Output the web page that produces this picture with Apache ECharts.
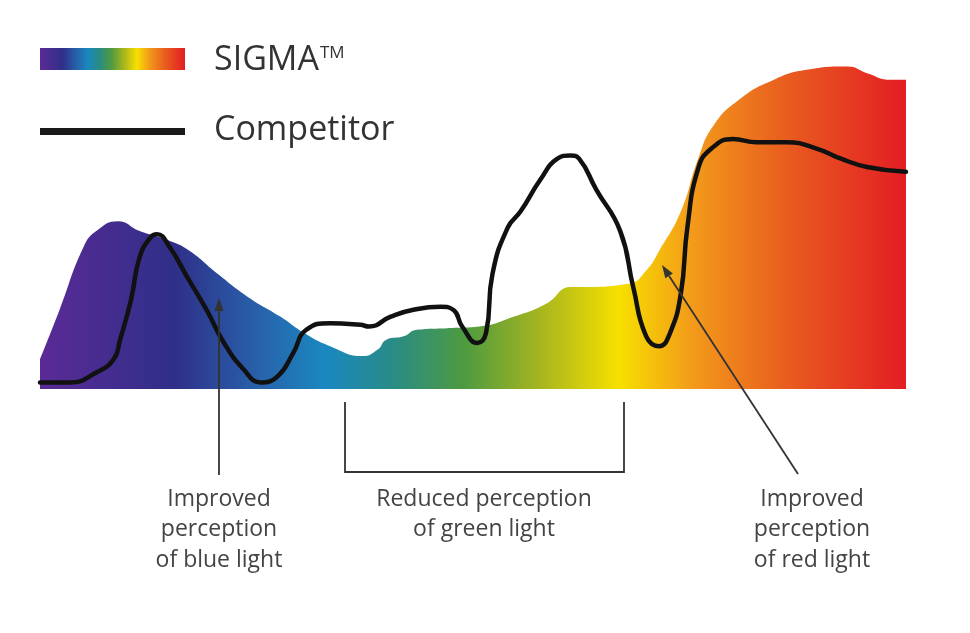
<!DOCTYPE html>
<html>
<head>
<meta charset="utf-8" />
<script src="https://cdn.jsdelivr.net/npm/echarts@6/dist/echarts.min.js"></script>
<style>
  html, body { margin: 0; padding: 0; background: #fff; }
  #chart { width: 970px; height: 633px; }
</style>
</head>
<body>
<div id="chart"></div>
<script>
// wavelength (nm) and relative response
var sigmaNm = [380, 389, 400, 406, 416, 426, 440, 449, 462, 476, 491, 502, 514, 529, 536, 540, 548, 554, 568, 583, 599, 614, 625, 629, 652, 660, 666, 676, 684, 691, 703, 719, 734, 753, 762, 773, 780];
var sigmaVal = [9, 24, 43, 48, 51, 48, 45, 42, 35, 28, 22, 17, 13, 10, 12, 15, 16, 18, 18.5, 19, 22, 26, 31, 31, 32, 36, 42, 54, 70, 80, 88, 94, 97, 98, 96, 94, 94];

var compNm = [380, 394, 406, 414, 417, 422, 426, 431, 434, 440, 448, 457, 465, 474, 482, 490, 497, 503, 514, 528, 532, 542, 552, 565, 571, 575, 582, 586, 589, 596, 602, 611, 619, 625, 629, 637, 648, 654, 660, 666, 671, 676, 679, 684, 690, 700, 711, 725, 739, 750, 762, 780];
var compVal = [2, 2, 5, 9, 15, 27, 40, 46, 47, 43, 34, 24, 14, 6, 2, 4, 11, 18, 20, 19.5, 19, 22, 24, 25, 24, 19, 14, 17, 35, 49, 54, 63.5, 70, 71, 70, 60.5, 48, 31, 16, 13, 17, 29, 49, 67, 73, 76, 75, 75, 73, 70, 67.5, 66];

var legendNames = ['SIGMA', 'Competitor'];
var notes = [
  'Improved\nperception\nof blue light',
  'Reduced perception\nof green light',
  'Improved\nperception\nof red light'
];

var spectrumStops = [
  [0, '#5b2a96'], [0.155, '#2f2f88'], [0.25, '#2860aa'], [0.33, '#1a88c0'],
  [0.41, '#2a8c84'], [0.49, '#4e9a40'], [0.575, '#a4b420'], [0.668, '#f7e000'],
  [0.754, '#f39a1a'], [0.855, '#e9601f'], [1, '#e31d24']
];

function spectrum() {
  var stops = [];
  for (var i = 0; i < spectrumStops.length; i++) {
    stops.push({ offset: spectrumStops[i][0], color: spectrumStops[i][1] });
  }
  return new echarts.graphic.LinearGradient(0, 0, 1, 0, stops);
}

function pairs(xs, ys) {
  var out = [];
  for (var i = 0; i < xs.length; i++) out.push([xs[i], ys[i]]);
  return out;
}

// thin annotation arrow, head at (x2, y2)
function arrow(x1, y1, x2, y2) {
  var dx = x2 - x1, dy = y2 - y1;
  var len = Math.sqrt(dx * dx + dy * dy);
  var ux = dx / len, uy = dy / len;
  var bx = x2 - ux * 13, by = y2 - uy * 13;
  return [{
    type: 'line', z: 10,
    shape: { x1: x1, y1: y1, x2: bx, y2: by },
    style: { stroke: '#333', lineWidth: 1.8 }
  }, {
    type: 'polygon', z: 10,
    shape: { points: [[x2, y2], [bx - uy * 4.5, by + ux * 4.5], [bx + uy * 4.5, by - ux * 4.5]] },
    style: { fill: '#333' }
  }];
}

var textFont = '"Open Sans", sans-serif';

var graphics = [
  { type: 'rect', shape: { x: 40, y: 48, width: 145, height: 22 }, style: { fill: spectrum() } },
  { type: 'rect', shape: { x: 40, y: 128, width: 145, height: 7 }, style: { fill: '#1a1a1a' } },
  {
    type: 'text', left: 214, top: 43,
    style: {
      text: '{a|' + legendNames[0] + '}{b|TM}',
      rich: {
        a: { fontSize: 34, fontFamily: textFont, fill: '#333', lineHeight: 40 },
        b: { fontSize: 17, fontFamily: textFont, fill: '#333', verticalAlign: 'top', padding: [5, 0, 0, 1] }
      }
    }
  },
  {
    type: 'text', left: 214, top: 113,
    style: { text: legendNames[1], fontSize: 34, fontFamily: textFont, fill: '#333' }
  },
  {
    type: 'polyline',
    shape: { points: [[345, 402], [345, 472], [624, 472], [624, 402]] },
    style: { stroke: '#333', lineWidth: 1.8, fill: null }
  }
];

graphics = graphics.concat(arrow(219, 475, 219, 298));
graphics = graphics.concat(arrow(798, 474, 662, 265));

var noteX = [219, 484, 812];
for (var i = 0; i < notes.length; i++) {
  graphics.push({
    type: 'text', x: noteX[i], y: 484,
    style: {
      text: notes[i], fontSize: 23, lineHeight: 30.5, fontFamily: textFont,
      fill: '#444', align: 'center', verticalAlign: 'top'
    }
  });
}

var chart = echarts.init(document.getElementById('chart'));
chart.setOption({
  animation: false,
  backgroundColor: '#fff',
  grid: { left: 40, right: 64, top: 60, bottom: 244 },
  xAxis: { type: 'value', min: 380, max: 780, show: false },
  yAxis: { type: 'value', min: 0, max: 100, show: false },
  series: [{
    name: 'SIGMA',
    type: 'line',
    data: pairs(sigmaNm, sigmaVal),
    smooth: 0.5,
    symbol: 'none',
    lineStyle: { width: 0 },
    areaStyle: { color: spectrum(), opacity: 1 },
    silent: true
  }, {
    name: 'Competitor',
    type: 'line',
    data: pairs(compNm, compVal),
    smooth: 0.5,
    symbol: 'none',
    lineStyle: { color: '#111', width: 4.5, cap: 'round', join: 'round' },
    silent: true
  }],
  graphic: graphics
});
</script>
</body>
</html>
